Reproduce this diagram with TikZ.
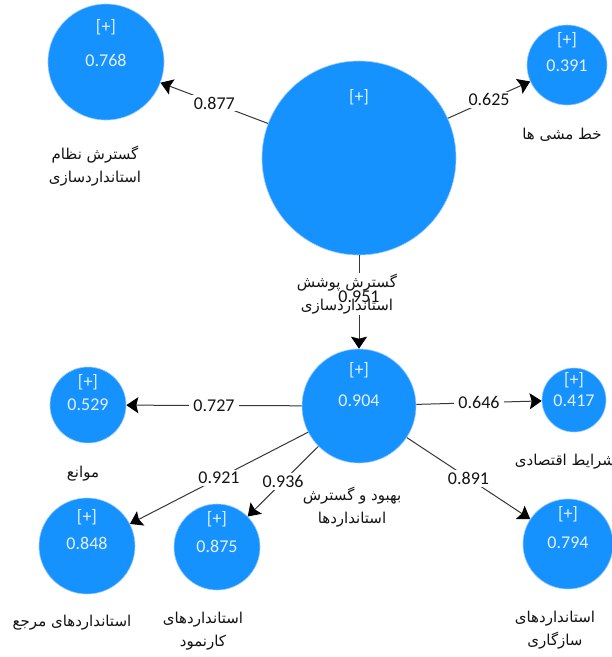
\documentclass[tikz,border=0pt]{standalone}
\usepackage{fontspec}
\setmainfont{Carlito}
\newfontfamily\arabicfont[Script=Arabic]{DejaVu Sans}
\TeXXeTstate=1
\usetikzlibrary{arrows.meta,calc}
\definecolor{lvblue}{RGB}{22,146,255}
\definecolor{lvring}{RGB}{150,200,255}
\definecolor{lvtext}{RGB}{228,240,255}
\definecolor{edgegray}{RGB}{55,55,55}
\definecolor{labtext}{RGB}{20,20,20}
\begin{document}
\begin{tikzpicture}[x=1pt,y=-1pt,
  lv/.style={circle,fill=lvblue,draw=lvring,line width=0.6pt,inner sep=0pt},
  intext/.style={text=lvtext,font=\fontsize{18}{20}\selectfont,inner sep=0pt},
  conn/.style={draw=edgegray,line width=1pt,-{Stealth[length=12pt,width=16pt,inset=2pt,color=black]}},
  elab/.style={fill=white,inner xsep=4pt,inner ysep=2pt,text=labtext,font=\fontsize{18}{20}\selectfont},
  numtext/.style={inner sep=0pt,text=labtext,font=\fontsize{18}{20}\selectfont},
  fa/.style={text=labtext,font=\arabicfont\fontsize{15}{23}\selectfont,align=center,inner sep=1pt}
]
\useasboundingbox (0,0) rectangle (612,657);
\fill[white] (0,0) rectangle (612,657);

% latent variables
\node[lv,minimum size=194] (big) at (359,158) {};
\node[lv,minimum size=116] (gn) at (106,62) {};
\node[lv,minimum size=80] (kh) at (567,65) {};
\node[lv,minimum size=114] (mid) at (359,406) {};
\node[lv,minimum size=76] (mw) at (88,405) {};
\node[lv,minimum size=64] (sh) at (574,400) {};
\node[lv,minimum size=96] (mr) at (87,546) {};
\node[lv,minimum size=86] (kn) at (217,547) {};
\node[lv,minimum size=90] (sz) at (568,544) {};

% inner texts
\node[intext] (big-p) at ($(big)+(0,-61)$) {[+]};
\node[intext] (gn-p) at ($(gn)+(0,-35)$) {[+]};
\node[intext] (gn-v) at ($(gn)+(0,-2)$) {0.768};
\node[intext] (kh-p) at ($(kh)+(0,-25)$) {[+]};
\node[intext] (kh-v) at ($(kh)+(0,1)$) {0.391};
\node[intext] (mid-p) at ($(mid)+(0,-36)$) {[+]};
\node[intext] (mid-v) at ($(mid)+(0,-5)$) {0.904};
\node[intext] (mw-p) at ($(mw)+(0,-23)$) {[+]};
\node[intext] (mw-v) at ($(mw)+(0,0)$) {0.529};
\node[intext] (sh-p) at ($(sh)+(0,-20)$) {[+]};
\node[intext] (sh-v) at ($(sh)+(0,1)$) {0.417};
\node[intext] (mr-p) at ($(mr)+(0,-29)$) {[+]};
\node[intext] (mr-v) at ($(mr)+(0,-3)$) {0.848};
\node[intext] (kn-p) at ($(kn)+(0,-28)$) {[+]};
\node[intext] (kn-v) at ($(kn)+(0,-1)$) {0.875};
\node[intext] (sz-p) at ($(sz)+(0,-30)$) {[+]};
\node[intext] (sz-v) at ($(sz)+(0,-1)$) {0.794};

% connectors
\draw[conn] (big) -- node[elab] {0.877} (gn);
\draw[conn] (big) -- node[elab] {0.625} (kh);
\draw[conn] (big) -- coordinate[midway] (m951) (mid);
\draw[conn] (mid) -- node[elab] {0.727} (mw);
\draw[conn] (mid) -- node[elab] {0.646} (sh);
\draw[conn] (mid) -- node[elab] {0.921} (mr);
\draw[conn] (mid) -- node[elab] {0.936} (kn);
\draw[conn] (mid) -- node[elab] {0.891} (sz);

% outer labels
\node[fa] (gn-l) at (95,166) {\beginR گسترش نظام\endR\\\beginR استانداردسازی\endR};
\node[fa] (kh-l) at (562,135) {\beginR خط مشی ها\endR};
\node[fa,fill=white] (big-l) at (347,294) {\beginR گسترش پوشش\endR\\\beginR استانداردسازی\endR};
\node[numtext] (l951) at ($(m951)+(0,-5)$) {0.951};
\node[fa] (mid-l) at (352,507) {\beginR بهبود و گسترش\endR\\\beginR استانداردها\endR};
\node[fa] (mw-l) at (83,474) {\beginR موانع\endR};
\node[fa] (sh-l) at (565,462) {\beginR شرایط اقتصادی\endR};
\node[fa] (mr-l) at (72,623) {\beginR استانداردهای مرجع\endR};
\node[fa] (kn-l) at (203,631) {\beginR استانداردهای\endR\\\beginR کارنمود\endR};
\node[fa] (sz-l) at (555,630) {\beginR استانداردهای\endR\\\beginR سازگاری\endR};
\end{tikzpicture}
\end{document}
